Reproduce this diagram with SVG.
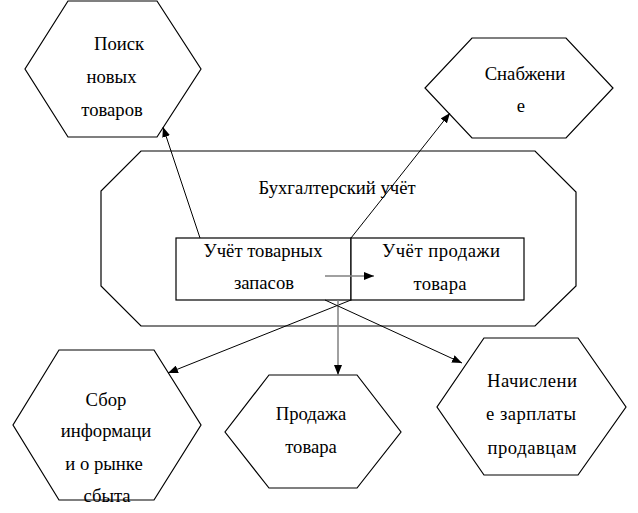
<svg xmlns="http://www.w3.org/2000/svg" width="638" height="513" viewBox="0 0 638 513">
<style>
.shape{fill:#ffffff;stroke:#000000;stroke-width:1.2}
.t{font-family:"Liberation Serif","Times New Roman",serif;font-size:18.67px;fill:#000000;text-anchor:middle}
.c{fill:none;stroke:#000000;stroke-width:1}
.g{fill:none;stroke:#808080;stroke-width:1.5}
</style>
<defs>
<marker id="ah" markerUnits="userSpaceOnUse" markerWidth="10" markerHeight="8" refX="10" refY="4" orient="auto">
<path d="M0,0 L10,4 L0,8 z" fill="#000000"/>
</marker>
</defs>
<rect width="638" height="513" fill="#ffffff"/>
<g id="node-buh">
<polygon class="shape" points="141,151 535,151 576,192 576,286 535,326 141,326 101,286 101,191"/>
<text class="t" x="337" y="194">Бухгалтерский учёт</text>
</g>
<g id="node-zapasy">
<rect class="shape" x="176" y="238" width="175" height="62"/>
<text class="t" x="263" y="257">Учёт товарных</text>
<text class="t" x="264" y="289">запасов</text>
</g>
<g id="node-prodazhi-uchet">
<rect class="shape" x="351" y="238" width="173" height="62"/>
<text class="t" x="441" y="257" textLength="118" lengthAdjust="spacing">Учёт продажи</text>
<text class="t" x="440" y="290" textLength="53" lengthAdjust="spacing">товара</text>
</g>
<g id="node-poisk">
<polygon class="shape" points="68,1 157,1 201,69 157,137 68,137 25,69"/>
<text class="t" x="119" y="50">Поиск</text>
<text class="t" x="111.5" y="83">новых</text>
<text class="t" x="112" y="116">товаров</text>
</g>
<g id="node-snab">
<polygon class="shape" points="472,38 566,38 613,88 566,138 472,138 425,88"/>
<text class="t" x="525" y="80">Снабжени</text>
<text class="t" x="521" y="112">е</text>
</g>
<g id="node-sbor">
<polygon class="shape" points="59,350 154,350 201,425 154,500 59,500 13,425"/>
<text class="t" x="106" y="406">Сбор</text>
<text class="t" x="106" y="437">информаци</text>
<text class="t" x="104" y="470">и о рынке</text>
<text class="t" x="107" y="502">сбыта</text>
</g>
<g id="node-prodazha">
<polygon class="shape" points="269,375 357,375 401,432 357,488 269,488 225,432"/>
<text class="t" x="311" y="420">Продажа</text>
<text class="t" x="311" y="453">товара</text>
</g>
<g id="node-zarplata">
<polygon class="shape" points="484,338 578,338 626,407 578,475 484,475 437,407"/>
<text class="t" x="532" y="387" textLength="90" lengthAdjust="spacing">Начислени</text>
<text class="t" x="531" y="420" textLength="90" lengthAdjust="spacing">е зарплаты</text>
<text class="t" x="532" y="454" textLength="89" lengthAdjust="spacing">продавцам</text>
</g>
<g id="connectors">
<line class="c" x1="200" y1="238" x2="163" y2="127" marker-end="url(#ah)"/>
<line class="c" x1="351" y1="238" x2="450" y2="113" marker-end="url(#ah)"/>
<line class="c" x1="351" y1="300" x2="168" y2="373" marker-end="url(#ah)"/>
<line class="g" x1="338" y1="300" x2="338" y2="375" marker-end="url(#ah)"/>
<line class="c" x1="325" y1="300" x2="462" y2="363" marker-end="url(#ah)"/>
<line class="g" x1="325" y1="276" x2="374" y2="276" marker-end="url(#ah)"/>
</g>
</svg>
